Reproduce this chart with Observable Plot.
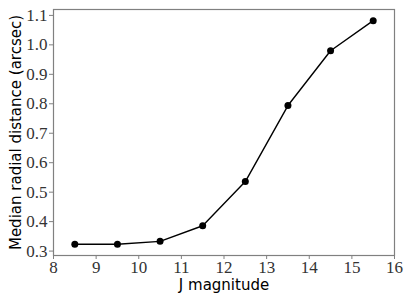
<!DOCTYPE html>
<html>
<head>
<meta charset="utf-8">
<script src="https://cdn.jsdelivr.net/npm/d3@7"></script>
<script src="https://cdn.jsdelivr.net/npm/@observablehq/plot@0.6"></script>
<style>
  html, body { margin: 0; padding: 0; background: #fff; }
</style>
</head>
<body>
<div id="chart"></div>
<script>
const jMag = [8.5, 9.5, 10.5, 11.5, 12.5, 13.5, 14.5, 15.5];
const medianDist = [0.323, 0.323, 0.333, 0.386, 0.536, 0.794, 0.980, 1.082];
const xTicks = [8, 9, 10, 11, 12, 13, 14, 15, 16];
const yTicks = [0.3, 0.4, 0.5, 0.6, 0.7, 0.8, 0.9, 1.0, 1.1];
const xLabel = "J magnitude";
const yLabel = "Median radial distance (arcsec)";

const data = jMag.map((x, i) => ({x, y: medianDist[i]}));
const serif = "'Liberation Serif', serif";
const sans = "'DejaVu Sans', sans-serif";

const chart = Plot.plot({
  width: 407,
  height: 305,
  marginLeft: 53,
  marginRight: 13,
  marginTop: 9,
  marginBottom: 50,
  style: {background: "#fff", color: "#000", fontFamily: serif, fontSize: "17px"},
  x: {domain: [8, 16]},
  y: {domain: [0.285, 1.12]},
  marks: [
    Plot.axisX({ticks: xTicks, tickSize: 4, tickPadding: 1, stroke: "#808080",
      tickFormat: d => String(d), fontSize: 17, fill: "#333", label: null}),
    Plot.axisY({ticks: yTicks, tickSize: 4, tickPadding: 2, stroke: "#808080",
      tickFormat: d => d.toFixed(1), fontSize: 17, fill: "#333", label: null}),
    Plot.frame({stroke: "#808080", strokeWidth: 1.2}),
    Plot.line(data, {x: "x", y: "y", stroke: "#000", strokeWidth: 1.4}),
    Plot.dot(data, {x: "x", y: "y", r: 3.5, fill: "#000"}),
    Plot.text([xLabel], {frameAnchor: "bottom", dy: 34, fontSize: 15, fontFamily: sans, fill: "#000"}),
    Plot.text([yLabel], {frameAnchor: "left", rotate: -90, dx: -37, textAnchor: "middle", fontSize: 15, fontFamily: sans, fill: "#000"})
  ]
});
document.getElementById("chart").appendChild(chart);
d3.select(chart).selectAll("text").each(function() {
  const t = this.textContent;
  if (t !== xLabel && t !== yLabel) {
    this.style.fontFamily = serif;
    this.style.fontSize = "17px";
  }
});
</script>
</body>
</html>
